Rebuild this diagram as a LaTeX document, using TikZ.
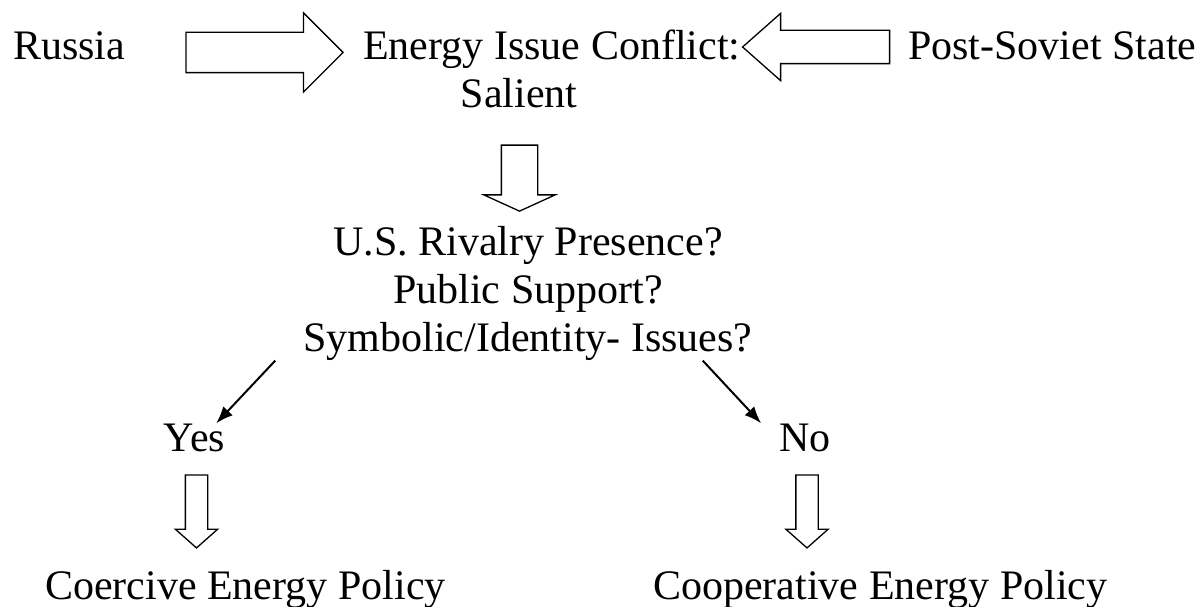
\documentclass[tikz,border=0pt]{standalone}
\usepackage{fontspec}
\setmainfont{Liberation Serif}
\usetikzlibrary{arrows.meta,shapes.arrows}

\begin{document}
\begin{tikzpicture}[x=1pt, y=1pt, >={Latex[length=17pt,width=13pt]},
  every node/.style={font=\fontsize{42}{48}\selectfont, inner sep=0pt},
  fatarrow/.style={shape=single arrow, draw, line width=1.3pt, inner xsep=0pt, minimum width=0pt}]
  \useasboundingbox (0,0) rectangle (1204,606);

  \node[anchor=base west] (russia) at (13,546) {Russia};
  \node[anchor=base west] (conflict) at (363,546) {Energy Issue Conflict:};
  \node[anchor=base] (salient) at (519,498) {Salient};
  \node[anchor=base west] (soviet) at (908,546) {Post-Soviet State};
  \node[anchor=north, align=center] (questions) at (528,380) {U.S. Rivalry Presence?\\ Public Support?\\ Symbolic/Identity- Issues?};
  \node[anchor=base] (yes) at (194.5,155) {Yes};
  \node[anchor=base] (no) at (805,155) {No};
  \node[anchor=base west] (coercive) at (45,7) {Coercive Energy Policy};
  \node[anchor=base west] (cooperative) at (653,7) {Cooperative Energy Policy};

  % block arrows
  \node[fatarrow, inner ysep=19.5pt, single arrow head extend=19.5pt, minimum height=157pt] (rusarrow) at (254.5,553.5) {};
  \node[fatarrow, inner ysep=16pt, single arrow head extend=17pt, single arrow tip angle=83, minimum height=147pt, rotate=180] (sovarrow) at (825.5,559) {};
  \node[fatarrow, inner ysep=17.5pt, single arrow head extend=17.5pt, single arrow tip angle=131, minimum height=66pt, rotate=-90] (midarrow) at (519.5,432) {};
  \node[fatarrow, inner ysep=10.5pt, single arrow head extend=10pt, single arrow tip angle=97, minimum height=73pt, rotate=-90] (yesarrow) at (196.5,99.5) {};
  \node[fatarrow, inner ysep=10.5pt, single arrow head extend=10pt, single arrow tip angle=97, minimum height=73pt, rotate=-90] (noarrow) at (807,99.5) {};

  \draw[->, line width=2pt] ([xshift=-28pt]questions.south west) -- ([xshift=-9pt]yes.north east);
  \draw[->, line width=2pt] ([xshift=-50pt]questions.south east) -- ([xshift=-18pt]no.north west);
\end{tikzpicture}
\end{document}
